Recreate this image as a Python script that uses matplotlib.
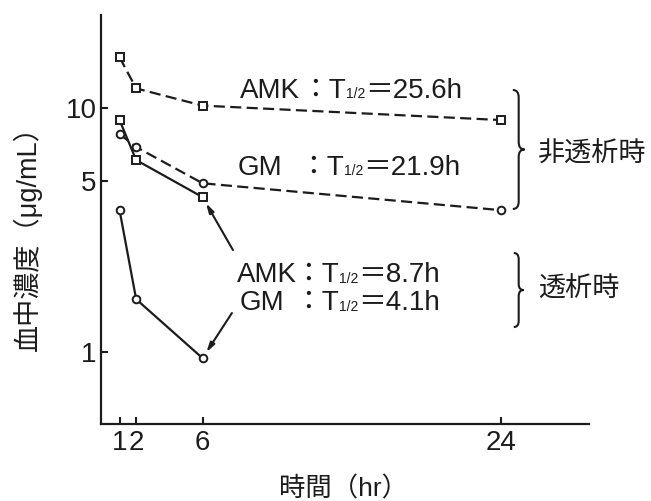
import numpy as np
import matplotlib.pyplot as plt
from matplotlib.path import Path
from matplotlib.patches import PathPatch

plt.rcParams['font.family'] = ['Liberation Sans', 'Noto Sans CJK JP']

INK = '#1c1c1c'

# 時間 (hr)
hours = [1, 2, 6, 24]
hours_dialysis = [1, 2, 6]

# 非透析時 (μg/mL)
amk_non = [16.1, 12.0, 10.2, 8.9]
gm_non = [7.8, 6.9, 4.9, 3.8]

# 透析時 (μg/mL)
amk_dia = [8.9, 6.1, 4.3]
gm_dia = [3.8, 1.64, 0.94]

x_ticks = [1, 2, 6, 24]
x_tick_labels = ['1', '2', '6', '24']
y_ticks = [1, 5, 10]
y_tick_labels = ['1', '5', '10']

# 半減期ラベル
half_names = ['AMK', 'GM', 'AMK', 'GM']
half_values = ['25.6', '21.9', '8.7', '4.1']
group_labels = ['非透析時', '透析時']


def half_life_label(ax, x_name, x_colon, y, name, value):
    kw = dict(fontsize=20, va='baseline', color=INK)
    ax.text(x_name, y, name, ha='left', **kw)
    t = ax.text(x_colon, y, '：T', ha='left', **kw)
    sub = ax.annotate('1/2', xy=(1, y), xycoords=(t, 'data'), xytext=(0.3, -0.5),
                      textcoords='offset points', fontsize=10, va='baseline',
                      ha='left', color=INK)
    ax.annotate('＝' + value + 'h', xy=(1, y), xycoords=(sub, 'data'),
                xytext=(0, 0), textcoords='offset points', ha='left', **kw)


def brace(ax, x, y_top, y_bot, w, r):
    # 右向きの波括弧 (axes 座標)
    mid = (y_top + y_bot) / 2
    xm = x + w / 2
    verts = [(x, y_top), (xm, y_top), (xm, y_top - r),
             (xm, mid + r), (xm, mid), (x + w, mid),
             (xm, mid), (xm, mid - r),
             (xm, y_bot + r), (xm, y_bot), (x, y_bot)]
    codes = [Path.MOVETO, Path.CURVE3, Path.CURVE3,
             Path.LINETO, Path.CURVE3, Path.CURVE3,
             Path.CURVE3, Path.CURVE3,
             Path.LINETO, Path.CURVE3, Path.CURVE3]
    ax.add_patch(PathPatch(Path(verts, codes), fill=False, lw=1.5, ec=INK,
                           transform=ax.transAxes, clip_on=False))


fig = plt.figure(figsize=(6.51, 5.01), dpi=100)
ax = fig.add_axes([0.1551, 0.1537, 0.7496, 0.8164])

line_kw = dict(color=INK, lw=1.6, mfc='white', mec=INK, mew=1.4, ms=5.5)
dash = (0, (5, 2.4))
ax.plot(hours, amk_non, ls=dash, marker='s', **line_kw)
ax.plot(hours, gm_non, ls=dash, marker='o', **line_kw)
ax.plot(hours_dialysis, amk_dia, ls='-', marker='s', **line_kw)
ax.plot(hours_dialysis, gm_dia, ls='-', marker='o', **line_kw)

ax.set_yscale('log')
ax.set_xlim(-0.12, 29.28)
ax.set_ylim(0.505, 24.0)
ax.set_xticks(x_ticks, x_tick_labels)
ax.set_yticks(y_ticks, y_tick_labels)
ax.yaxis.set_minor_locator(plt.NullLocator())
ax.tick_params(direction='in', length=5, width=1.5, labelsize=20,
               color=INK, labelcolor=INK)
ax.tick_params(axis='x', pad=4)
ax.tick_params(axis='y', pad=3)
for side in ['top', 'right']:
    ax.spines[side].set_visible(False)
for side in ['left', 'bottom']:
    ax.spines[side].set_linewidth(1.6)
    ax.spines[side].set_color(INK)

# 半減期
half_life_label(ax, 8.25, 11.93, 10.99, half_names[0], half_values[0])
half_life_label(ax, 8.13, 11.80, 5.31, half_names[1], half_values[1])
half_life_label(ax, 8.07, 11.50, 1.93, half_names[2], half_values[2])
half_life_label(ax, 8.25, 11.50, 1.48, half_names[3], half_values[3])

arrow = dict(arrowstyle='-|>,head_length=0.55,head_width=0.15', lw=1.5,
             color=INK, shrinkA=0, shrinkB=5)
ax.annotate('', xy=(hours_dialysis[2], amk_dia[2]), xytext=(7.83, 2.61),
            arrowprops=arrow)
ax.annotate('', xy=(hours_dialysis[2], gm_dia[2]), xytext=(7.77, 1.44),
            arrowprops=arrow)

brace(ax, 0.844, 0.8166, 0.5257, 0.024, 0.018)
brace(ax, 0.846, 0.418, 0.237, 0.020, 0.015)
ax.text(26.2, 6.41, group_labels[0], fontsize=19.5, va='center', ha='left',
        color=INK)
ax.text(26.2, 1.79, group_labels[1], fontsize=19.5, va='center', ha='left',
        color=INK)

fig.text(0.0415, 0.537, '血中濃度（μg/mL）', rotation=90, ha='center',
         va='center', fontsize=19.5, color=INK)
fig.text(0.527, 0.024, '時間（hr）', ha='center', va='center', fontsize=19,
         color=INK)

fig.savefig('out.png', dpi=100)
